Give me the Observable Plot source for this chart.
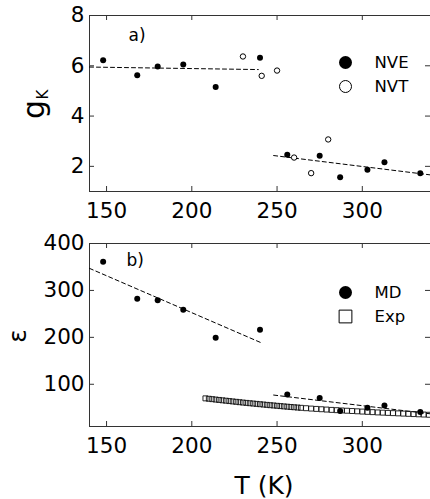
<!DOCTYPE html>
<html>
<head>
<meta charset="utf-8">
<script src="https://cdn.jsdelivr.net/npm/d3@7"></script>
<script src="https://cdn.jsdelivr.net/npm/@observablehq/plot@0.6"></script>
<style>
  body { margin: 0; background: #fff; }
  #chart { width: 430px; }
  #chart svg { display: block; }
</style>
</head>
<body>
<div id="chart"></div>
<script>
// ---- data ----
const xTicks = [150, 200, 250, 300];
const gkTicks = [2, 4, 6, 8];
const epsTicks = [100, 200, 300, 400];

const nveT = [148, 168, 180, 195, 214, 240, 256, 275, 287, 303, 313, 334];
const nveG = [6.22, 5.62, 5.97, 6.05, 5.16, 6.32, 2.46, 2.42, 1.57, 1.87, 2.16, 1.73];

const nvtT = [230, 241, 250, 260, 270, 280];
const nvtG = [6.37, 5.60, 5.81, 2.35, 1.73, 3.07];

const gkFitAT = [140, 239];
const gkFitAG = [5.95, 5.85];
const gkFitBT = [248, 340];
const gkFitBG = [2.43, 1.66];

const mdT = [148, 168, 180, 195, 214, 240, 256, 275, 287, 303, 313, 334];
const mdEps = [361, 282, 279, 259, 199, 216, 78, 71, 43, 50, 55, 41];

const expT = [208, 210, 212, 214, 216, 218, 220, 222, 224, 226, 228, 230, 232, 234, 236,
  238, 240, 242, 244, 246, 248, 250, 252, 254, 256, 258, 260, 262, 264,
  267, 270, 273, 276, 279, 282, 285, 288, 291, 294, 297, 300, 303, 306, 309,
  312, 315, 318, 321, 324, 327, 330, 333, 336, 339];
const expEps = [70.0, 69.1, 68.3, 67.4, 66.6, 65.8, 65.0, 64.2, 63.4, 62.6, 61.8, 61.0, 60.3, 59.6, 58.9,
  58.2, 57.5, 56.8, 56.1, 55.4, 54.8, 54.1, 53.5, 52.8, 52.2, 51.6, 51.0, 50.4, 49.8,
  49.0, 48.2, 47.5, 46.8, 46.1, 45.4, 44.8, 44.2, 43.6, 43.0, 42.4, 41.8, 41.2, 40.6, 40.0,
  39.5, 39.0, 38.5, 38.0, 37.5, 37.0, 36.5, 36.0, 35.5, 35.0];

const epsFitAT = [140, 241];
const epsFitAEps = [347, 188];
const epsFitBT = [248, 340];
const epsFitBEps = [77, 37];

const legendA = ["NVE", "NVT"];
const legendB = ["MD", "Exp"];
const panelA = "a)";
const panelB = "b)";
const xLabel = "T (K)";
const yLabelA = ["g", "K"];
const yLabelB = "ε";

// ---- helpers ----
const pts = (xs, ys) => xs.map((x, i) => ({x, y: ys[i]}));
const FONT = "DejaVu Sans, sans-serif";
const W = 430, ML = 89, MR = 0;
const innerW = W - ML - MR;
const TICK = 5;
const axisColor = "#333";

function boxMarks(yTicks, innerH) {
  return [
    Plot.frame({stroke: axisColor, strokeWidth: 1}),
    Plot.ruleX(xTicks, {x: d => d, insetTop: innerH - TICK, stroke: axisColor}),
    Plot.ruleX(xTicks, {x: d => d, insetBottom: innerH - TICK, stroke: axisColor}),
    Plot.ruleY(yTicks, {y: d => d, insetRight: innerW - TICK, stroke: axisColor}),
    Plot.ruleY(yTicks, {y: d => d, insetLeft: innerW - TICK, stroke: axisColor}),
    Plot.axisX({ticks: xTicks, tickSize: 0, tickPadding: 11, label: null, fontSize: 21.5, tickFormat: d => String(d)}),
    Plot.axisY({ticks: yTicks, tickSize: 0, tickPadding: 5, label: null, fontSize: 21.5, tickFormat: d => String(d)})
  ];
}

// ---- top panel ----
const topH = 228, topMT = 15, topMB = 37;
const topInnerH = topH - topMT - topMB;
const plotA = Plot.plot({
  width: W, height: topH,
  marginLeft: ML, marginRight: MR, marginTop: topMT, marginBottom: topMB,
  style: {fontFamily: FONT, fontSize: "21.5px", color: "#000", background: "#fff"},
  x: {domain: [140, 340]},
  y: {domain: [1, 8]},
  marks: [
    ...boxMarks(gkTicks, topInnerH),
    Plot.line(pts(gkFitAT, gkFitAG), {x: "x", y: "y", stroke: "#000", strokeWidth: 1, strokeDasharray: "4,3"}),
    Plot.line(pts(gkFitBT, gkFitBG), {x: "x", y: "y", stroke: "#000", strokeWidth: 1, strokeDasharray: "4,3", clip: true}),
    Plot.dot(pts(nveT, nveG), {x: "x", y: "y", r: 3, fill: "#000", stroke: "none"}),
    Plot.dot(pts(nvtT, nvtG), {x: "x", y: "y", r: 2.7, fill: "#fff", stroke: "#000", strokeWidth: 1}),
    Plot.text([panelA], {text: d => d, frameAnchor: "top-left", dx: 39, dy: 20, textAnchor: "start", lineAnchor: "middle", fontSize: 17}),
    // legend
    Plot.dot([legendA[0]], {frameAnchor: "top-right", dx: -85, dy: 47, r: 6.5, fill: "#000", stroke: "none"}),
    Plot.dot([legendA[1]], {frameAnchor: "top-right", dx: -85, dy: 71, r: 6, fill: "#fff", stroke: "#000", strokeWidth: 1}),
    Plot.text([legendA[0]], {text: d => d, frameAnchor: "top-right", dx: -56, dy: 47.5, textAnchor: "start", lineAnchor: "middle", fontSize: 16.5}),
    Plot.text([legendA[1]], {text: d => d, frameAnchor: "top-right", dx: -56, dy: 71.5, textAnchor: "start", lineAnchor: "middle", fontSize: 16.5}),
    // y label g_K (rotated)
    Plot.text([yLabelA[0]], {text: d => d, frameAnchor: "left", dx: -55, dy: 6, rotate: -90, textAnchor: "middle", lineAnchor: "middle", fontSize: 30}),
    Plot.text([yLabelA[1]], {text: d => d, frameAnchor: "left", dx: -46, dy: -9, rotate: -90, textAnchor: "middle", lineAnchor: "middle", fontSize: 15})
  ]
});

// ---- bottom panel ----
const botH = 271, botMT = 15, botMB = 73;
const botInnerH = botH - botMT - botMB;
const plotB = Plot.plot({
  width: W, height: botH,
  marginLeft: ML, marginRight: MR, marginTop: botMT, marginBottom: botMB,
  style: {fontFamily: FONT, fontSize: "21.5px", color: "#000", background: "#fff"},
  x: {domain: [140, 340]},
  y: {domain: [10, 400]},
  marks: [
    ...boxMarks(epsTicks, botInnerH),
    Plot.line(pts(epsFitAT, epsFitAEps), {x: "x", y: "y", stroke: "#000", strokeWidth: 1, strokeDasharray: "4,3"}),
    Plot.line(pts(epsFitBT, epsFitBEps), {x: "x", y: "y", stroke: "#000", strokeWidth: 1, strokeDasharray: "4,3", clip: true}),
    Plot.dot(pts(expT, expEps), {x: "x", y: "y", symbol: "square", r: 2.8, fill: "none", stroke: "#111", strokeWidth: 0.9, clip: true}),
    Plot.dot(pts(mdT, mdEps), {x: "x", y: "y", r: 3, fill: "#000", stroke: "none"}),
    Plot.text([panelB], {text: d => d, frameAnchor: "top-left", dx: 37, dy: 17, textAnchor: "start", lineAnchor: "middle", fontSize: 17}),
    // legend
    Plot.dot([legendB[0]], {frameAnchor: "top-right", dx: -85, dy: 49, r: 6.5, fill: "#000", stroke: "none"}),
    Plot.dot([legendB[1]], {frameAnchor: "top-right", dx: -85, dy: 73, symbol: "square", r: 7.2, fill: "#fff", stroke: "#000", strokeWidth: 1}),
    Plot.text([legendB[0]], {text: d => d, frameAnchor: "top-right", dx: -56, dy: 49, textAnchor: "start", lineAnchor: "middle", fontSize: 16.5}),
    Plot.text([legendB[1]], {text: d => d, frameAnchor: "top-right", dx: -56, dy: 73, textAnchor: "start", lineAnchor: "middle", fontSize: 16.5}),
    // y label epsilon (rotated)
    Plot.text([yLabelB], {text: d => d, frameAnchor: "left", dx: -72, dy: 1, rotate: -90, textAnchor: "middle", lineAnchor: "middle", fontSize: 25}),
    // x label
    Plot.text([xLabel], {text: d => d, frameAnchor: "bottom", dx: 4, dy: 59, textAnchor: "middle", lineAnchor: "middle", fontSize: 25})
  ]
});

// make sure the axis-title glyphs are rotated
function ensureRotated(svg, labels) {
  d3.select(svg).selectAll("text").each(function() {
    const t = this.textContent;
    if (!labels.includes(t)) return;
    const el = d3.select(this);
    const tr = el.attr("transform") || "";
    if (tr.includes("rotate")) return;
    const x = +(el.attr("x") || 0), y = +(el.attr("y") || 0);
    el.attr("x", null).attr("y", null)
      .attr("transform", `${tr} translate(${x},${y}) rotate(-90)`);
  });
}
ensureRotated(plotA, yLabelA);
ensureRotated(plotB, [yLabelB]);

const root = document.getElementById("chart");
root.appendChild(plotA);
root.appendChild(plotB);
</script>
</body>
</html>
